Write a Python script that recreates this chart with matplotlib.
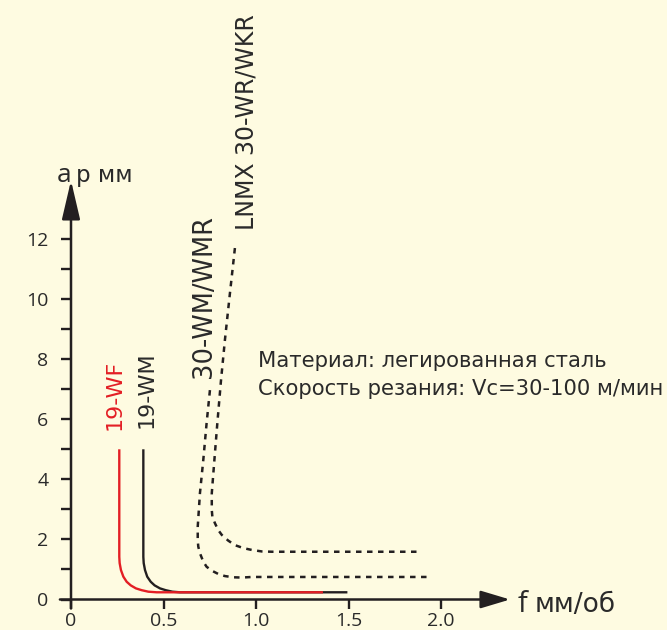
import matplotlib
matplotlib.use("Agg")
import matplotlib.pyplot as plt
from matplotlib.ticker import FixedLocator, FixedFormatter

plt.rcParams['font.family'] = ['Open Sans', 'DejaVu Sans']
WIDE = ['DejaVu Sans']

# --- data: feed f (mm/rev) vs depth of cut ap (mm) ---
wf_f = [0.261, 0.261, 0.263, 0.270, 0.283, 0.301, 0.323, 0.351, 0.382, 0.418, 0.463, 1.362]
wf_ap = [5.0, 1.42, 1.21, 0.98, 0.76, 0.59, 0.47, 0.37, 0.31, 0.26, 0.24, 0.24]

wm_f = [0.391, 0.391, 0.393, 0.400, 0.412, 0.431, 0.452, 0.481, 0.512, 0.548, 0.589, 1.494]
wm_ap = [5.0, 1.42, 1.21, 0.98, 0.76, 0.59, 0.47, 0.37, 0.31, 0.26, 0.24, 0.24]

wmr_f = [0.751, 0.733, 0.715, 0.697, 0.685, 0.685, 0.688, 0.697, 0.715, 0.733,
         0.761, 0.796, 0.832, 0.877, 0.923, 0.977, 1.922]
wmr_ap = [6.97, 5.87, 4.64, 3.54, 2.42, 1.98, 1.76, 1.54, 1.26, 1.09,
          0.96, 0.85, 0.78, 0.74, 0.73, 0.75, 0.75]

wkr_f = [0.886, 0.859, 0.832, 0.811, 0.791, 0.775, 0.761, 0.761, 0.764, 0.778,
         0.796, 0.815, 0.850, 0.886, 0.932, 0.977, 1.031, 1.085, 1.869]
wkr_ap = [11.70, 10.19, 8.64, 7.31, 5.87, 4.64, 3.54, 2.98, 2.76, 2.54,
          2.31, 2.15, 1.96, 1.81, 1.71, 1.65, 1.60, 1.59, 1.59]

y_major = [0, 2, 4, 6, 8, 10, 12]
y_minor = [1, 3, 5, 7, 9, 11]
x_ticks = [0, 0.5, 1.0, 1.5, 2.0]
x_labels = ['0', '0.5', '1.0', '1.5', '2.0']

BG = '#FEFBE1'
INK = '#231F20'
TXT = '#2A2A2A'
RED = '#E31E24'

fig = plt.figure(figsize=(6.67, 6.30), dpi=100, facecolor=BG)
ax = fig.add_axes([0, 0, 1, 1])
ax.set_facecolor(BG)
ax.set_xlim(-71 / 185, (667 - 71) / 185)
ax.set_ylim(-(630 - 599.5) / 30.04, 599.5 / 30.04)

for side in ('top', 'right'):
    ax.spines[side].set_visible(False)
for side in ('left', 'bottom'):
    ax.spines[side].set_position(('data', 0))
    ax.spines[side].set_visible(False)

# axes with arrowheads
x_tip, y_tip = 2.373, 13.95
ax.annotate('', xy=(x_tip, 0), xytext=(-0.06, 0),
            arrowprops=dict(arrowstyle='-|>,head_length=18,head_width=5.4',
                            mutation_scale=1, lw=1.8, color=INK,
                            shrinkA=0, shrinkB=0), zorder=5)
ax.annotate('', xy=(0, y_tip), xytext=(0, -0.3),
            arrowprops=dict(arrowstyle='-|>,head_length=24,head_width=5.6',
                            mutation_scale=1, lw=1.8, color=INK,
                            shrinkA=0, shrinkB=0), zorder=5)

ax.yaxis.set_major_locator(FixedLocator(y_major))
ax.yaxis.set_minor_locator(FixedLocator(y_minor))
ax.yaxis.set_major_formatter(FixedFormatter([str(v) for v in y_major]))
ax.xaxis.set_major_locator(FixedLocator(x_ticks))
ax.xaxis.set_major_formatter(FixedFormatter(x_labels))
ax.tick_params(axis='y', which='both', direction='out', length=7.2, width=1.7,
               color=INK, labelsize=14, labelcolor=TXT, pad=9)
ax.tick_params(axis='x', which='both', direction='out', length=6.5, width=1.7,
               color=INK, labelsize=14, labelcolor=TXT, pad=2.5)

# curves
ax.plot(wm_f, wm_ap, color=INK, lw=1.7, solid_capstyle='butt', zorder=3)
ax.plot(wf_f, wf_ap, color=RED, lw=1.7, solid_capstyle='butt', zorder=4)
ax.plot(wmr_f, wmr_ap, color=INK, lw=1.8, linestyle=(0, (2.2, 2.2)), zorder=3)
ax.plot(wkr_f, wkr_ap, color=INK, lw=1.8, linestyle=(0, (2.2, 2.2)), zorder=3)

# curve labels
ax.text(0.238, 6.81, '19-WF', rotation=90, ha='center', va='center',
        fontsize=16, color=RED, family=WIDE)
ax.text(0.411, 6.97, '19-WM', rotation=90, ha='center', va='center',
        fontsize=16, color=TXT, family=WIDE)
ax.text(0.719, 10.1, '30-WM/WMR', rotation=90, ha='center', va='center',
        fontsize=18.5, color=TXT, family=WIDE)
ax.text(0.946, 15.91, 'LNMX 30-WR/WKR', rotation=90, ha='center', va='center',
        fontsize=17, color=TXT, family=WIDE)

# conditions
ax.text(1.011, 7.75, 'Материал: легированная сталь', ha='left', va='baseline',
        fontsize=15.2, color=TXT, family=WIDE)
ax.text(1.011, 6.81, 'Скорость резания: Vc=30-100 м/мин', ha='left',
        va='baseline', fontsize=15.2, color=TXT, family=WIDE)

# axis titles
ax.text(-0.075, 13.91, 'a', ha='left', va='baseline', fontsize=19, color=TXT)
ax.text(0.028, 13.91, 'p мм', ha='left', va='baseline', fontsize=16.5,
        color=TXT, family=WIDE)
ax.text(2.416, -0.426, 'f', ha='left', va='baseline', fontsize=21, color=TXT)
ax.text(2.508, -0.426, 'мм/об', ha='left', va='baseline', fontsize=19,
        color=TXT, family=WIDE)

fig.savefig('out.png', dpi=100, facecolor=BG)
